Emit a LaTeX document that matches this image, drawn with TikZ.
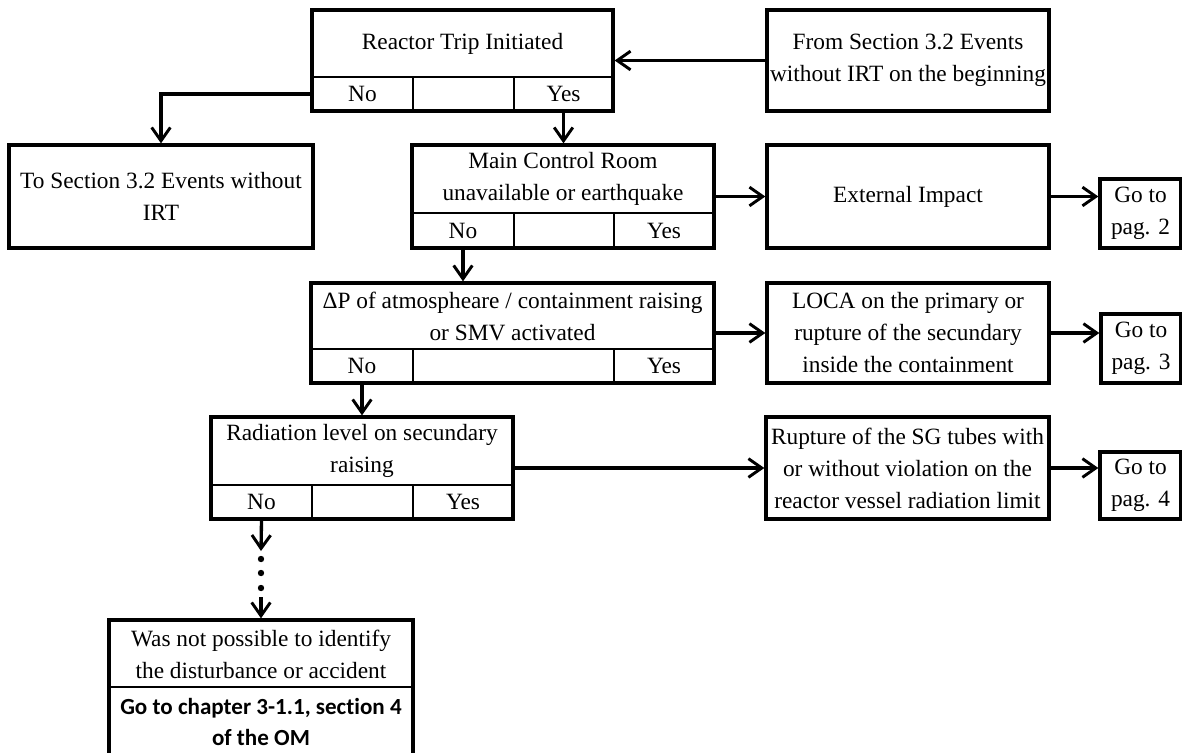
\documentclass[tikz,border=0pt]{standalone}
\usepackage{fontspec}
\setmainfont{Liberation Serif}
\newfontfamily\calib[Ligatures=NoCommon]{Carlito}
\usetikzlibrary{arrows.meta,fit,calc}
\newcommand\decbox[9]{%
  \node[box, fit={(#2,#3) (#4,#6)}] (#1) {};
  \node[txt] (#1-q) at ($(#2,#3)!0.5!(#4,#5)$) {#9};
  \draw[divline] (#2,#5) -- (#4,#5) (#7,#5) -- (#7,#6) (#8,#5) -- (#8,#6);
  \node[txt] (#1-no) at ($(#2,#5)!0.5!(#7,#6)$) {No};
  \node[txt] (#1-yes) at ($(#8,#5)!0.5!(#4,#6)$) {Yes};
}
\newcommand\plainbox[6]{%
  \node[box, fit={(#2,#3) (#4,#5)}] (#1) {};
  \node[txt] (#1-t) at (#1.center) {#6};
}
\begin{document}
\begin{tikzpicture}[x=0.75pt,y=-0.75pt,
  box/.style={draw, line width=2.5pt, inner sep=0pt},
  txt/.style={align=center, inner sep=0pt, font=\fontsize{17.5}{24}\selectfont},
  divline/.style={line width=1.2pt},
  arr/.style={line width=2.5pt, -{Straight Barb[length=10pt,width=14pt,line width=2.2pt]}}]
\useasboundingbox (0,0) rectangle (1182,753);
\clip (0,0) rectangle (1182,753);

% decision boxes
\decbox{rti}{312}{10}{613}{77}{111}{413}{514}{Reactor Trip Initiated}
\decbox{mcr}{412}{145}{714}{213}{248}{514}{614}{Main Control Room\\unavailable or earthquake}
\decbox{dp}{311}{283}{714}{349}{383}{413}{614}{ΔP of atmospheare / containment raising\\or SMV activated}
\decbox{rad}{211}{417}{513}{485}{519}{312}{413}{Radiation level on secundary\\raising}

% plain boxes
\plainbox{from}{767}{10}{1049}{111}{From Section 3.2 Events\\without IRT on the beginning}
\plainbox{to}{9}{145}{313}{248}{To Section 3.2 Events without\\IRT}
\plainbox{ei}{767}{145}{1049}{248}{External Impact}
\plainbox{go2}{1100}{179}{1181}{248}{Go to\\pag. 2}
\plainbox{loca}{767}{283}{1049}{383}{LOCA on the primary or\\rupture of the secundary\\inside the containment}
\plainbox{go3}{1101}{314}{1181}{383}{Go to\\pag. 3}
\plainbox{rup}{766}{417}{1049}{519}{Rupture of the SG tubes with\\or without violation on the\\reactor vessel radiation limit}
\plainbox{go4}{1100}{452}{1181}{519}{Go to\\pag. 4}

% final box (cut off at the bottom)
\node[box, fit={(109,620) (413,780)}] (fin) {};
\draw[divline] (109,687) -- (413,687);
\node[txt] (fin-q) at (261,654) {Was not possible to identify\\the disturbance or accident};
\node[align=center, inner sep=0pt, font=\calib\bfseries\fontsize{17.3}{23}\selectfont] (fin-go) at (261,722) {Go to chapter 3-1.1, section 4\\of the OM};

% connectors
\draw[arr] (from.west) -- (from.west -| rti.east);
\draw[arr] (rti-no -| rti.west) -- (to.north |- rti-no) -- (to.north);
\draw[arr] (rti-yes |- rti.south) -- (rti-yes |- mcr.north);
\draw[arr] (mcr.east) -- (mcr.east -| ei.west);
\draw[arr] (ei.east) -- (ei.east -| go2.west);
\draw[arr] (mcr-no |- mcr.south) -- (mcr-no |- dp.north);
\draw[arr] (dp.east) -- (dp.east -| loca.west);
\draw[arr] (loca.east) -- (loca.east -| go3.west);
\draw[arr] (dp-no |- dp.south) -- (dp-no |- rad.north);
\draw[arr] (rad.east) -- (rad.east -| rup.west);
\draw[arr] (rup.east) -- (rup.east -| go4.west);

\coordinate (ta) at (261,551);
\coordinate (tb) at (261,597);
\draw[arr] (rad-no |- rad.south) -- (ta);
\fill (261,559) circle[radius=2.4pt] (261,573) circle[radius=2.4pt] (261,588) circle[radius=2.4pt];
\draw[arr] (tb) -- (tb |- fin.north);
\end{tikzpicture}
\end{document}
